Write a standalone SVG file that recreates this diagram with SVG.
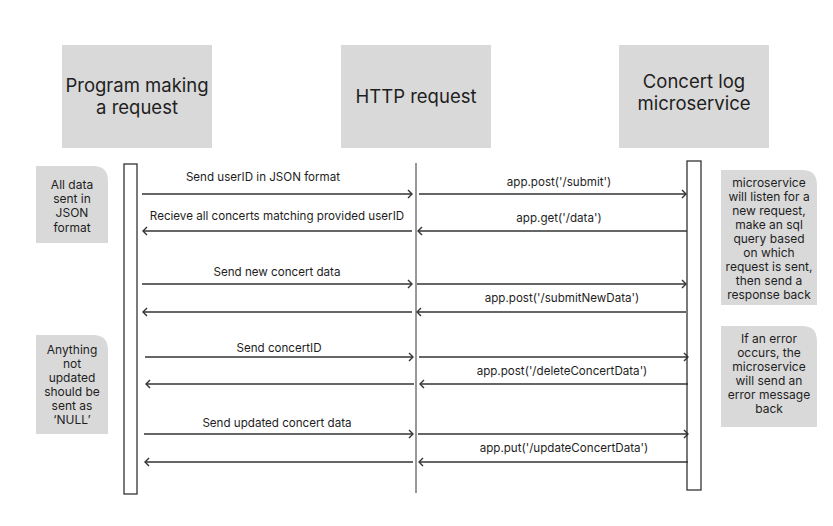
<svg xmlns="http://www.w3.org/2000/svg" width="833" height="526" viewBox="0 0 833 526">
<defs>
<style>
.hdr{fill:#d9d9d9}
.ht{font-family:Inter,"Liberation Sans",sans-serif;font-size:18.5px;fill:#1e1e1e;text-anchor:middle}
.lbl{font-family:Inter,"Liberation Sans",sans-serif;font-size:11.6px;fill:#1e1e1e;text-anchor:middle}
.nt{font-family:Inter,"Liberation Sans",sans-serif;font-size:12px;fill:#1e1e1e;text-anchor:middle}
.note{fill:#d9d9d9}
.msg{stroke:#333;stroke-width:1.4;fill:none;marker-end:url(#arr)}
.life{stroke:#333;stroke-width:1;fill:none}
.act{fill:#fff;stroke:#333;stroke-width:1.3}
</style>
<marker id="arr" markerUnits="userSpaceOnUse" markerWidth="10" markerHeight="12" refX="5" refY="5" orient="auto">
<path d="M1,1 L5,5 L1,9" fill="none" stroke="#333" stroke-width="1.4"/>
</marker>
</defs>
<rect width="833" height="526" fill="#fff"/>

<g id="program">
<rect class="hdr" x="62" y="45" width="150" height="103"/>
<text class="ht" x="137" y="92">Program making</text>
<text class="ht" x="137" y="114">a request</text>
<rect class="act" x="124" y="164" width="13" height="330"/>
</g>

<g id="http">
<rect class="hdr" x="341" y="45" width="150" height="103"/>
<text class="ht" x="416" y="103">HTTP request</text>
<line class="life" x1="416" y1="163" x2="416" y2="493"/>
</g>

<g id="microservice">
<rect class="hdr" x="619" y="45" width="150" height="103"/>
<text class="ht" x="694" y="88">Concert log</text>
<text class="ht" x="694" y="110">microservice</text>
<rect class="act" x="687" y="161" width="14" height="329"/>
</g>

<g id="note-json">
<path class="note" d="M36,166 H93 Q108,166 108,181 V243 H36 Z"/>
<text class="nt" x="72" y="189">All data</text>
<text class="nt" x="72" y="203">sent in</text>
<text class="nt" x="72" y="217">JSON</text>
<text class="nt" x="72" y="232">format</text>
</g>

<g id="note-null">
<path class="note" d="M36,335 H93 Q108,335 108,350 V434 H36 Z"/>
<text class="nt" x="72" y="354">Anything</text>
<text class="nt" x="72" y="368">not</text>
<text class="nt" x="72" y="382">updated</text>
<text class="nt" x="72" y="396">should be</text>
<text class="nt" x="72" y="410">sent as</text>
<text class="nt" x="72" y="424">‘NULL’</text>
</g>

<g id="note-listen">
<path class="note" d="M721,170 H802 Q817,170 817,185 V305 H721 Z"/>
<text class="nt" x="769" y="187">microservice</text>
<text class="nt" x="769" y="201">will listen for a</text>
<text class="nt" x="769" y="215">new request,</text>
<text class="nt" x="769" y="229">make an sql</text>
<text class="nt" x="769" y="243">query based</text>
<text class="nt" x="769" y="257">on which</text>
<text class="nt" x="769" y="271">request is sent,</text>
<text class="nt" x="769" y="285">then send a</text>
<text class="nt" x="769" y="299">response back</text>
</g>

<g id="note-error">
<path class="note" d="M721,326 H802 Q817,326 817,341 V427 H721 Z"/>
<text class="nt" x="769" y="343">If an error</text>
<text class="nt" x="769" y="357">occurs, the</text>
<text class="nt" x="769" y="371">microservice</text>
<text class="nt" x="769" y="385">will send an</text>
<text class="nt" x="769" y="399">error message</text>
<text class="nt" x="769" y="413">back</text>
</g>

<g id="connectors">
<line class="msg" x1="142" y1="194" x2="412" y2="194"/>
<line class="msg" x1="419" y1="194" x2="686" y2="194"/>
<line class="msg" x1="687" y1="231" x2="418" y2="231"/>
<line class="msg" x1="412" y1="231" x2="143" y2="231"/>

<line class="msg" x1="142" y1="284" x2="412" y2="284"/>
<line class="msg" x1="417" y1="284" x2="686" y2="284"/>
<line class="msg" x1="686" y1="312" x2="417" y2="312"/>
<line class="msg" x1="412" y1="312" x2="143" y2="312"/>

<line class="msg" x1="145" y1="357" x2="413" y2="357"/>
<line class="msg" x1="419" y1="357" x2="688" y2="357"/>
<line class="msg" x1="688" y1="384" x2="420" y2="384"/>
<line class="msg" x1="414" y1="384" x2="146" y2="384"/>

<line class="msg" x1="144" y1="434" x2="413" y2="434"/>
<line class="msg" x1="418" y1="434" x2="688" y2="434"/>
<line class="msg" x1="688" y1="462" x2="419" y2="462"/>
<line class="msg" x1="413" y1="462" x2="145" y2="462"/>

<text class="lbl" x="263" y="181">Send userID in JSON format</text>
<text class="lbl" x="559" y="186">app.post('/submit')</text>
<text class="lbl" x="559" y="222">app.get('/data')</text>
<text class="lbl" x="277" y="220">Recieve all concerts matching provided userID</text>
<text class="lbl" x="277" y="276">Send new concert data</text>
<text class="lbl" x="562" y="302">app.post('/submitNewData')</text>
<text class="lbl" x="279" y="352">Send concertID</text>
<text class="lbl" x="562" y="375">app.post('/deleteConcertData')</text>
<text class="lbl" x="277" y="427">Send updated concert data</text>
<text class="lbl" x="564" y="452">app.put('/updateConcertData')</text>
</g>
</svg>
